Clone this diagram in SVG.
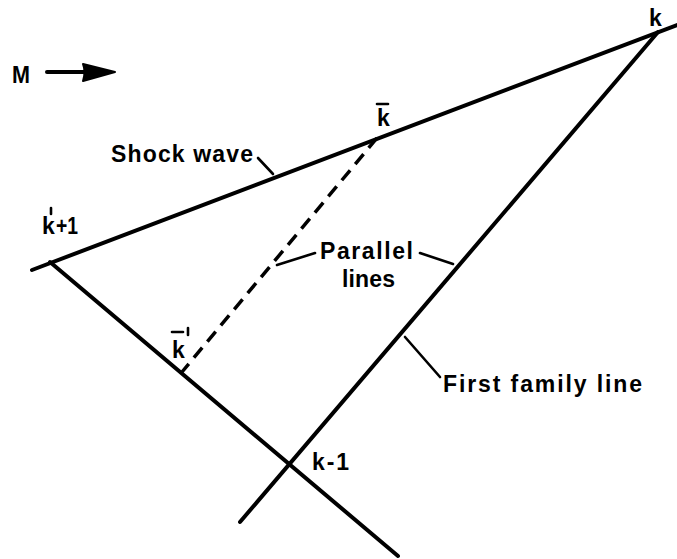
<svg xmlns="http://www.w3.org/2000/svg" width="677" height="559" viewBox="0 0 677 559">
<style>
.t{font-family:"Liberation Sans",Arial,sans-serif;font-weight:bold;font-size:23px;fill:#000}
.main{stroke:#000;stroke-width:4;fill:none;stroke-linecap:round}
.lead{stroke:#000;stroke-width:2.6;fill:none;stroke-linecap:round}
.dash{stroke:#000;stroke-width:3.5;fill:none;stroke-dasharray:13 8}
</style>
<rect width="677" height="559" fill="#fff"/>
<g id="connectors">
<line id="shock" class="main" x1="32" y1="270" x2="677" y2="25"/>
<line id="first-family" class="main" x1="658" y1="32" x2="240" y2="522"/>
<line id="left-line" class="main" x1="50" y1="262" x2="398" y2="556"/>
<line id="parallel" class="dash" x1="377" y1="138" x2="182" y2="372"/>
<line class="lead" x1="258" y1="158" x2="273" y2="174"/>
<line class="lead" x1="277" y1="265" x2="315" y2="253"/>
<line class="lead" x1="420" y1="253" x2="453" y2="264"/>
<line class="lead" x1="405" y1="337" x2="440" y2="377"/>
</g>
<g id="mach">
<text class="t" x="12" y="83" font-size="26" textLength="18" lengthAdjust="spacingAndGlyphs">M</text>
<line class="main" x1="47" y1="72" x2="88" y2="72" stroke-width="3.5"/>
<path d="M83,64 Q86,72 83,81 L115,72 Z" fill="#000" stroke="#000" stroke-width="2" stroke-linejoin="round"/>
</g>
<g id="label-k"><text class="t" x="649" y="26">k</text></g>
<g id="label-kbar"><text class="t" x="377" y="126">k</text><line class="lead" x1="377" y1="104" x2="388" y2="104"/></g>
<g id="label-kp1"><text class="t" x="42" y="234">k</text><line class="lead" x1="51" y1="208" x2="51" y2="214"/><text class="t" x="56" y="234" textLength="22" lengthAdjust="spacingAndGlyphs">+1</text></g>
<g id="label-kbarp"><text class="t" x="172" y="358">k</text><line class="lead" x1="172" y1="332" x2="183" y2="332"/><line class="lead" x1="188" y1="328" x2="188" y2="335"/></g>
<g id="label-km1"><text class="t" x="312" y="470" textLength="37" lengthAdjust="spacing">k-1</text></g>
<g id="label-shock"><text class="t" x="111" y="162" textLength="142" lengthAdjust="spacing">Shock wave</text></g>
<g id="label-parallel"><text class="t" x="320" y="259" textLength="93" lengthAdjust="spacing">Parallel</text><text class="t" x="342" y="287" textLength="53" lengthAdjust="spacing">lines</text></g>
<g id="label-first"><text class="t" x="443" y="392" textLength="199" lengthAdjust="spacing">First family line</text></g>
</svg>
